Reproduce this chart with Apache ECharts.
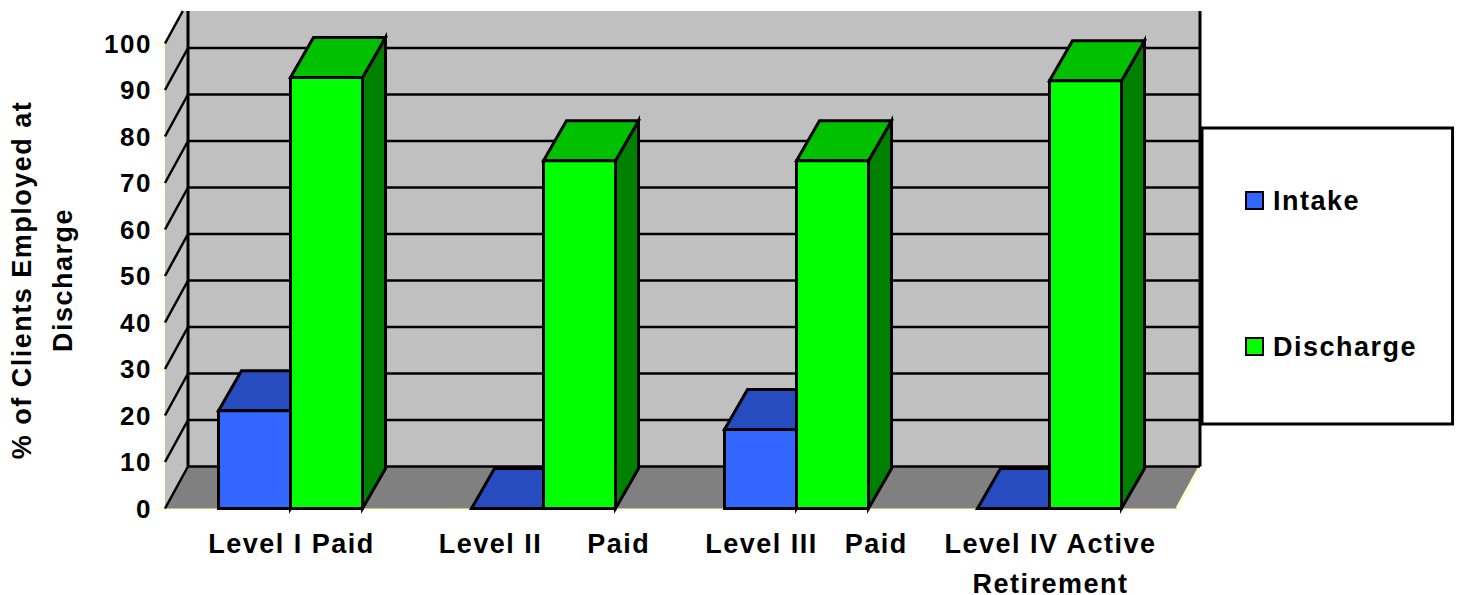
<!DOCTYPE html>
<html>
<head>
<meta charset="utf-8">
<style>
  html, body { margin: 0; padding: 0; background: #fff; }
  #chart { width: 1460px; height: 595px; }
  /* the original labels are spaced out wider than the font itself */
  #chart text { letter-spacing: 1.5px; }
</style>
<script src="https://cdn.jsdelivr.net/npm/echarts@6/dist/echarts.min.js"></script>
</head>
<body>
<div id="chart"></div>
<script>
// values
var categories = ['Level I Paid', 'Level II\u00a0\u00a0\u00a0\u00a0\u00a0Paid', '\u00a0\u00a0Level III\u00a0\u00a0\u00a0Paid', 'Level IV Active\nRetirement'];
var intake = [21, 0, 17, 0];
var discharge = [92.7, 74.8, 74.8, 92];
var yTicks = [0, 10, 20, 30, 40, 50, 60, 70, 80, 90, 100];

// fake 3d: how far the back plane sits from the front plane, in px
var depthX = 23;
var depthY = 42;
var barDepthY = 40;
var wallTop = 11; // the original picture is cut off here
var barRatio = 0.2846;
var barShift = -1;
var font = '"Liberation Sans", Arial, sans-serif';

var chart = echarts.init(document.getElementById('chart'), null, { renderer: 'svg' });

function polygon(points, fill, lineWidth) {
  return {
    type: 'polygon',
    shape: { points: points },
    style: { fill: fill, stroke: lineWidth ? '#000' : null, lineWidth: lineWidth || 0, lineJoin: 'miter' }
  };
}

function line(x1, y1, x2, y2, color, width) {
  return {
    type: 'line',
    shape: { x1: x1, y1: y1, x2: x2, y2: y2 },
    style: { stroke: color, lineWidth: width }
  };
}

// side wall, back wall and floor
function renderWalls(params, api) {
  var rect = params.coordSys;
  var left = rect.x, right = rect.x + rect.width;
  var y0 = api.coord([0, 0])[1];
  var yMax = api.coord([0, 100])[1];
  var topX = left + depthX * (yMax - wallTop) / depthY;
  return {
    type: 'group',
    children: [
      polygon([[left + depthX, wallTop], [right + depthX, wallTop], [right + depthX, y0 - depthY], [left + depthX, y0 - depthY]], '#c0c0c0'),
      polygon([[left, yMax], [topX, wallTop], [left + depthX, wallTop], [left + depthX, y0 - depthY], [left, y0]], '#c0c0c0'),
      polygon([[left, y0], [left + depthX, y0 - depthY], [right + depthX, y0 - depthY], [right, y0]], '#808080'),
      line(right, y0, right + depthX, y0 - depthY, '#ffffcc', 3)
    ]
  };
}

// one gridline on the side wall and on the back wall
function renderGridline(params, api) {
  var rect = params.coordSys;
  var left = rect.x, right = rect.x + rect.width;
  var y = api.coord([0, api.value(1)])[1];
  var backY = y - depthY;
  var children = [];
  if (backY >= wallTop) {
    children.push(line(left, y, left + depthX, backY, '#000', 2.5));
    children.push(line(left + depthX, backY, right + depthX, backY, '#000', 2.5));
  } else {
    children.push(line(left, y, left + depthX * (y - wallTop) / depthY, wallTop, '#000', 2.5));
  }
  return { type: 'group', children: children };
}

function renderWallEdges(params, api) {
  var rect = params.coordSys;
  var left = rect.x, right = rect.x + rect.width;
  var y0 = api.coord([0, 0])[1];
  return {
    type: 'group',
    children: [
      line(left + depthX, wallTop, left + depthX, y0 - depthY, '#000', 3),
      line(right + depthX, wallTop, right + depthX, y0 - depthY, '#000', 3)
    ]
  };
}

function barRenderer(side, front, topColor, sideColor) {
  return function (params, api) {
    var p = api.coord([api.value(0), api.value(1)]);
    var base = api.coord([api.value(0), 0]);
    var w = api.size([1, 0])[0] * barRatio;
    // side -1 sits left of the category centre, +1 right of it
    var x1 = (side < 0 ? base[0] - w : base[0]) + barShift;
    var x2 = x1 + w;
    var y1 = p[1], y2 = base[1];
    return {
      type: 'group',
      children: [
        polygon([[x2, y1], [x2 + depthX, y1 - barDepthY], [x2 + depthX, y2 - barDepthY], [x2, y2]], sideColor, 3),
        polygon([[x1, y1], [x1 + depthX, y1 - barDepthY], [x2 + depthX, y1 - barDepthY], [x2, y1]], topColor, 3),
        polygon([[x1, y1], [x2, y1], [x2, y2], [x1, y2]], front, 3)
      ]
    };
  };
}

var option = {
  animation: false,
  backgroundColor: '#fff',
  grid: { left: 165, top: 43.5, width: 1012, height: 465, outerBoundsMode: 'none' },
  legend: {
    left: 1202,
    top: 128,
    orient: 'vertical',
    align: 'left',
    selectedMode: false,
    backgroundColor: '#fff',
    borderColor: '#000',
    borderWidth: 3,
    padding: [59, 49, 64, 43],
    itemWidth: 17,
    itemHeight: 17,
    itemGap: 119,
    textStyle: { fontFamily: font, fontWeight: 'bold', fontSize: 27, color: '#000', padding: [0, 0, 0, 5] },
    data: [
      { name: 'Intake', icon: 'rect', itemStyle: { color: '#3366ff', borderColor: '#000', borderWidth: 2 } },
      { name: 'Discharge', icon: 'rect', itemStyle: { color: '#00ff00', borderColor: '#000', borderWidth: 2 } }
    ]
  },
  xAxis: {
    type: 'category',
    data: categories,
    axisLine: { lineStyle: { color: '#ffffcc', width: 3 } },
    axisTick: { length: 8, lineStyle: { color: '#ffffcc', width: 2 } },
    axisLabel: {
      interval: 0,
      margin: 15,
      fontFamily: font,
      fontWeight: 'bold',
      fontSize: 27,
      lineHeight: 40,
      color: '#000'
    }
  },
  yAxis: {
    type: 'value',
    min: 0,
    max: 100,
    interval: 10,
    name: '% of Clients Employed at\nDischarge',
    nameLocation: 'middle',
    nameRotate: 90,
    nameGap: 82,
    nameTextStyle: { fontFamily: font, fontWeight: 'bold', fontSize: 27, lineHeight: 41, color: '#000', padding: [0, 8, 0, 0] },
    axisLine: { show: true, lineStyle: { color: '#ffffcc', width: 3 } },
    axisTick: { show: true, length: 10, lineStyle: { color: '#ffffcc', width: 2 } },
    splitLine: { show: false },
    axisLabel: { margin: 13, fontFamily: font, fontWeight: 'bold', fontSize: 26, color: '#000' }
  },
  series: [
    { type: 'custom', name: 'walls', silent: true, z: 1, data: [[0, 0]], renderItem: renderWalls },
    { type: 'custom', name: 'gridlines', silent: true, z: 2, data: yTicks.map(function (v) { return [0, v]; }), renderItem: renderGridline },
    { type: 'custom', name: 'edges', silent: true, z: 3, data: [[0, 0]], renderItem: renderWallEdges },
    {
      type: 'custom',
      name: 'Intake',
      z: 4,
      itemStyle: { color: '#3366ff' },
      data: intake.map(function (v, i) { return [i, v]; }),
      renderItem: barRenderer(-1, '#3366ff', '#264cbf', '#1a3380')
    },
    {
      type: 'custom',
      name: 'Discharge',
      z: 5,
      itemStyle: { color: '#00ff00' },
      data: discharge.map(function (v, i) { return [i, v]; }),
      renderItem: barRenderer(1, '#00ff00', '#00c000', '#008000')
    }
  ]
};

chart.setOption(option);
</script>
</body>
</html>
